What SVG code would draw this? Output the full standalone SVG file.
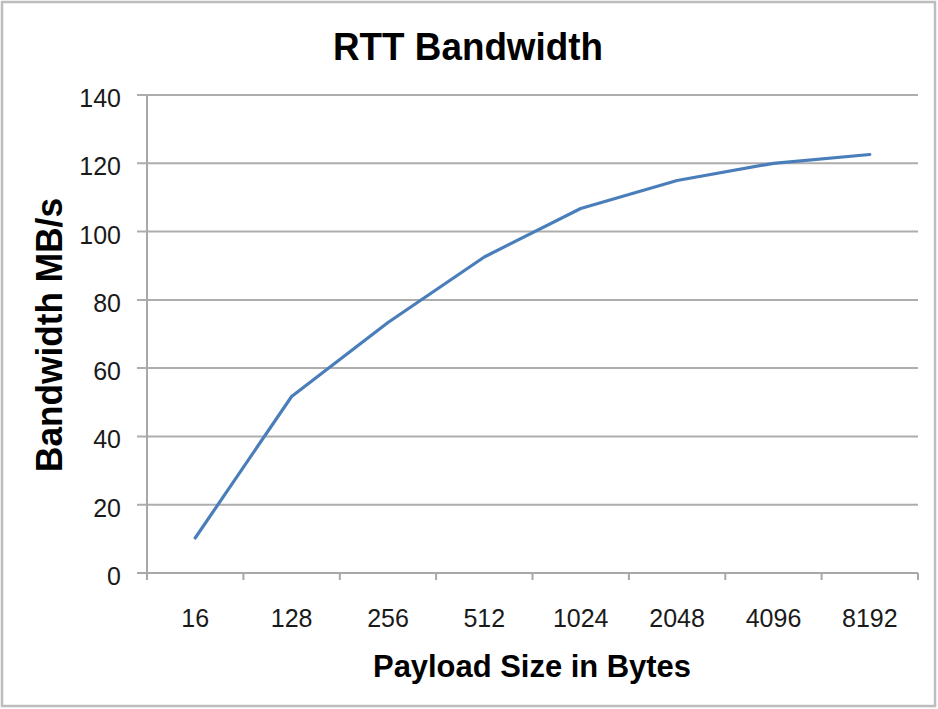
<svg xmlns="http://www.w3.org/2000/svg" width="938" height="709" viewBox="0 0 938 709">
  <style>
    .frame { fill: #ffffff; stroke: #bdbdbd; stroke-width: 2.5; }
    .grid { stroke: #adadad; stroke-width: 2; fill: none; }
    .axis { stroke: #a8a8a8; stroke-width: 2; fill: none; }
    .series { stroke: #4a7ebb; stroke-width: 3.2; fill: none; stroke-linejoin: round; stroke-linecap: round; }
    .tick { font-family: "Liberation Sans", Arial, sans-serif; font-size: 25px; fill: #1a1a1a; }
    .ylab { text-anchor: end; }
    .xlab { text-anchor: middle; }
    .title { font-family: "Liberation Sans", Arial, sans-serif; font-weight: bold; fill: #000000; text-anchor: middle; }
  </style>

  <!-- chart frame -->
  <rect class="frame" x="2" y="2" width="933" height="704"/>

  <!-- chart title -->
  <text class="title" x="468" y="60" font-size="38" textLength="270" lengthAdjust="spacingAndGlyphs">RTT Bandwidth</text>

  <!-- horizontal gridlines with left tick marks -->
  <g id="gridlines">
    <line class="grid" x1="137" y1="95" x2="918" y2="95"/>
    <line class="grid" x1="137" y1="163.3" x2="918" y2="163.3"/>
    <line class="grid" x1="137" y1="231.6" x2="918" y2="231.6"/>
    <line class="grid" x1="137" y1="299.9" x2="918" y2="299.9"/>
    <line class="grid" x1="137" y1="368.1" x2="918" y2="368.1"/>
    <line class="grid" x1="137" y1="436.4" x2="918" y2="436.4"/>
    <line class="grid" x1="137" y1="504.7" x2="918" y2="504.7"/>
  </g>

  <!-- axes -->
  <g id="axes">
    <line class="axis" x1="147" y1="95" x2="147" y2="580"/>
    <line class="axis" x1="137" y1="573" x2="918" y2="573"/>
    <line class="axis" x1="243.4" y1="573" x2="243.4" y2="580"/>
    <line class="axis" x1="339.8" y1="573" x2="339.8" y2="580"/>
    <line class="axis" x1="436.1" y1="573" x2="436.1" y2="580"/>
    <line class="axis" x1="532.5" y1="573" x2="532.5" y2="580"/>
    <line class="axis" x1="628.9" y1="573" x2="628.9" y2="580"/>
    <line class="axis" x1="725.3" y1="573" x2="725.3" y2="580"/>
    <line class="axis" x1="821.6" y1="573" x2="821.6" y2="580"/>
    <line class="axis" x1="918" y1="573" x2="918" y2="580"/>
  </g>

  <!-- value axis labels -->
  <g id="y-labels" class="tick ylab">
    <text x="121" y="107">140</text>
    <text x="121" y="175.3">120</text>
    <text x="121" y="243.6">100</text>
    <text x="121" y="311.9">80</text>
    <text x="121" y="380.1">60</text>
    <text x="121" y="448.4">40</text>
    <text x="121" y="516.7">20</text>
    <text x="121" y="585">0</text>
  </g>

  <!-- category axis labels -->
  <g id="x-labels" class="tick xlab">
    <text x="195.2" y="627">16</text>
    <text x="291.6" y="627">128</text>
    <text x="388" y="627">256</text>
    <text x="484.3" y="627">512</text>
    <text x="580.7" y="627">1024</text>
    <text x="677.1" y="627">2048</text>
    <text x="773.5" y="627">4096</text>
    <text x="869.8" y="627">8192</text>
  </g>

  <!-- data series -->
  <g id="series">
    <polyline class="series" points="195.2,538 291.6,396.5 388,322.5 484.3,257 580.7,208.5 677.1,180.5 773.5,163.3 869.8,154.5"/>
  </g>

  <!-- axis titles -->
  <text class="title" x="532" y="677" font-size="31" textLength="318" lengthAdjust="spacingAndGlyphs">Payload Size in Bytes</text>
  <text class="title" transform="translate(62,335) rotate(-90)" x="0" y="0" font-size="36" textLength="274" lengthAdjust="spacingAndGlyphs">Bandwidth MB/s</text>
</svg>
